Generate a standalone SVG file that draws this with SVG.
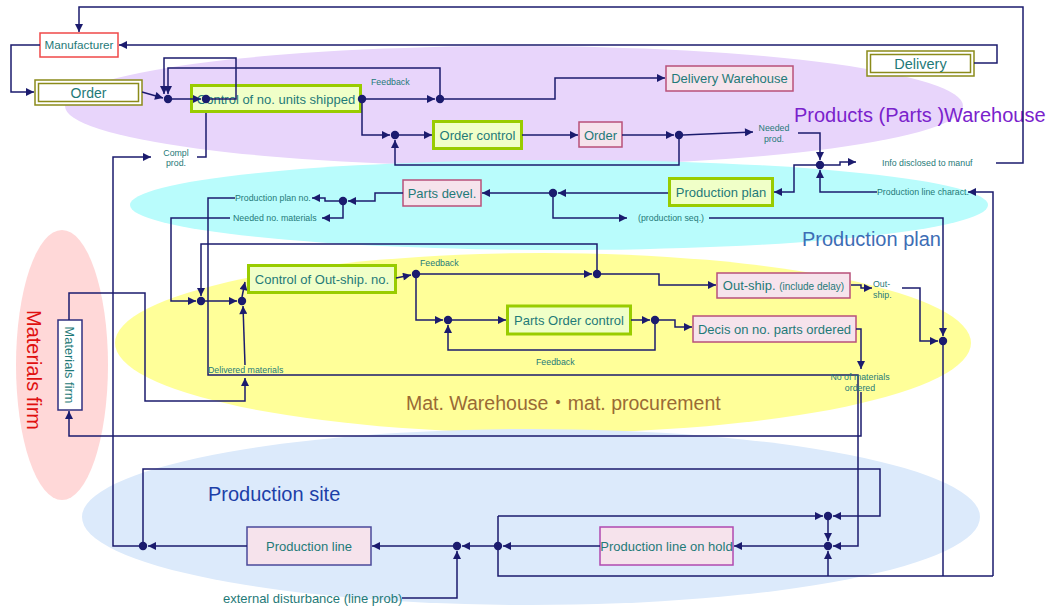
<svg xmlns="http://www.w3.org/2000/svg" width="1051" height="608" viewBox="0 0 1051 608">
<defs>
<marker id="ah" viewBox="0 0 10 10" refX="10" refY="5" markerWidth="9" markerHeight="8" markerUnits="userSpaceOnUse" orient="auto">
<path d="M0,0 L10,5 L0,10 z" fill="#1b1b6e"/>
</marker>
</defs>
<style>
text{font-family:"Liberation Sans",Arial,sans-serif}
.t{fill:#1f7a78;font-size:13px}
.s{fill:#1f7a78;font-size:8.8px}
.c{text-anchor:middle}
.ln{fill:none;stroke:#1b1b6e;stroke-width:1.5}
.ar{marker-end:url(#ah)}
.dot{fill:#1b1b6e}
.grn{fill:#f0ffc8;stroke:#99cc00;stroke-width:3}
.pnk{fill:#f6e3ec;stroke:#b8507a;stroke-width:1.5}
.dbl{fill:#fff;stroke:#8b8b1a;stroke-width:1.5}
.rg{font-size:20px}
</style>
<rect width="1051" height="608" fill="#fff"/>
<g id="regions">
<ellipse cx="62" cy="365" rx="46" ry="135" fill="#ffd8d8"/>
<ellipse cx="514" cy="106" rx="449" ry="60" fill="#e8d5fb"/>
<ellipse cx="559" cy="205" rx="429" ry="45" fill="#b9fcfc"/>
<ellipse cx="543" cy="343" rx="428" ry="90" fill="#ffff99"/>
<ellipse cx="531" cy="517" rx="449" ry="88" fill="#dceafb"/>
<text class="rg" x="794" y="122" fill="#7a22cc">Products (Parts )Warehouse</text>
<text class="rg" x="802" y="246" fill="#3d6db5">Production plan</text>
<text x="406" y="410" fill="#9a6a35" style="font-family:'Liberation Sans','Noto Sans CJK JP',sans-serif;font-size:19.5px">Mat. Warehouse・mat. procurement</text>
<text class="rg" x="208" y="501" fill="#1c3fa8">Production site</text>
<text class="rg" transform="translate(27,310) rotate(90)" fill="#e01010">Materials firm</text>
</g>
<g id="manufacturer"><rect x="40" y="33" width="78" height="24" fill="#fff" stroke="#f04848" stroke-width="1.5"/><text class="t c" x="79" y="49" style="font-size:11.7px">Manufacturer</text></g>
<g id="order-top"><rect class="dbl" x="35" y="80" width="107" height="25"/><rect class="dbl" x="38.5" y="83.5" width="100" height="18"/><text class="t c" x="88.5" y="97.5" style="font-size:14px">Order</text></g>
<g id="control-units"><rect class="grn" x="191.5" y="85.5" width="169" height="26"/><text class="t c" x="276" y="103.5">Control of no. units shipped</text></g>
<g id="delivery-warehouse"><rect class="pnk" x="666" y="66" width="127" height="25"/><text class="t c" x="729.5" y="83">Delivery Warehouse</text></g>
<g id="delivery"><rect class="dbl" x="867" y="51" width="107" height="25"/><rect class="dbl" x="870.5" y="54.5" width="100" height="18"/><text class="t c" x="920.5" y="68.5" style="font-size:14.5px">Delivery</text></g>
<g id="order-control"><rect class="grn" x="433.5" y="121.5" width="88" height="27"/><text class="t c" x="477.5" y="139.5">Order control</text></g>
<g id="order-pink"><rect class="pnk" x="579" y="122" width="43" height="25"/><text class="t c" x="600.5" y="139.5">Order</text></g>
<g id="production-plan"><rect class="grn" x="669.5" y="178.5" width="103" height="27"/><text class="t c" x="721" y="196.5">Production plan</text></g>
<g id="parts-devel"><rect class="pnk" x="403" y="180" width="78" height="26"/><text class="t c" x="442" y="197.5">Parts devel.</text></g>
<g id="control-outship"><rect class="grn" x="248.5" y="265.5" width="147" height="27"/><text class="t c" x="322" y="283.5">Control of Out-ship. no.</text></g>
<g id="parts-order-control"><rect class="grn" x="507.5" y="306" width="123" height="28"/><text class="t c" x="569" y="324.5">Parts Order control</text></g>
<g id="out-ship"><rect class="pnk" x="717" y="273" width="133" height="25"/><text class="t c" x="783.5" y="290">Out-ship. <tspan style="font-size:10px">(include delay)</tspan></text></g>
<g id="decis"><rect class="pnk" x="693" y="316" width="163" height="26"/><text class="t c" x="774.5" y="333.5">Decis on no. parts ordered</text></g>
<g id="materials-firm-box"><rect x="58" y="320" width="24" height="90" fill="#fff" stroke="#303080" stroke-width="1.5"/><text class="t c" transform="translate(65,365) rotate(90)" style="font-size:12.8px">Materials firm</text></g>
<g id="production-line"><rect x="247" y="527" width="124" height="38" fill="#f6e3ec" stroke="#4a4a9a" stroke-width="1.5"/><text class="t c" x="309" y="550.5">Production line</text></g>
<g id="production-line-hold"><rect x="600" y="527" width="133" height="38" fill="#f6e3ec" stroke="#b04ab0" stroke-width="1.5"/><text class="t c" x="666.5" y="550.5">Production line on hold</text></g>
<g id="connectors">
<path class="ln ar" d="M996 163 H1023 V7 H79 V32"/>
<path class="ln ar" d="M974 63 H997 V45 H119"/>
<path class="ln ar" d="M40 45 H11 V92 H34"/>
<path class="ln ar" d="M142 92 L163 98"/>
<path class="ln ar" d="M172 99 H201"/>
<path class="ln ar" d="M206 99 H236 V58 H164 V94"/>
<path class="ln ar" d="M440 99 V68 H168 V94"/>
<path class="ln ar" d="M366 99 H435"/>
<path class="ln ar" d="M444 99 H555 V78 H665"/>
<path class="ln ar" d="M362 103 V135 H390"/>
<path class="ln ar" d="M399 135 H432"/>
<path class="ln ar" d="M522 135 H578"/>
<path class="ln ar" d="M622 135 H674"/>
<path class="ln ar" d="M679 135 V165 H395 V140"/>
<path class="ln ar" d="M683 135 L753 132"/>
<path class="ln ar" d="M798 133 H820 V160"/>
<path class="ln ar" d="M824 165 H840 V162 H856"/>
<path class="ln ar" d="M877 192 H820 V170"/>
<path class="ln ar" d="M816 165 H794 V192 H774"/>
<path class="ln ar" d="M993 576 V192 H968"/>
<path class="ln ar" d="M668 193 H558"/>
<path class="ln ar" d="M549 193 H482"/>
<path class="ln ar" d="M553 197 V218 H627"/>
<path class="ln ar" d="M403 193 H375 V201 H348"/>
<path class="ln ar" d="M339 201 H325 V198 H312"/>
<path class="ln ar" d="M343 205 V218 H322"/>
<path class="ln ar" d="M230 218 H171 V301 H196"/>
<path class="ln ar" d="M597 274 V244 H201 V296"/>
<path class="ln ar" d="M205 301 H237"/>
<path class="ln ar" d="M242 297 L245 282"/>
<path class="ln ar" d="M245 365 L243 306"/>
<path class="ln ar" d="M69 320 V293 H145 V401 H245 V378"/>
<path class="ln ar" d="M396 278 L411 275"/>
<path class="ln ar" d="M420 274 H592"/>
<path class="ln ar" d="M601 274 H659 V285 H716"/>
<path class="ln ar" d="M416 278 V320 H443"/>
<path class="ln ar" d="M452 320 H506"/>
<path class="ln ar" d="M631 320 H650"/>
<path class="ln ar" d="M655 324 V350 H448 V325"/>
<path class="ln ar" d="M659 320 H675 V327 H692"/>
<path class="ln ar" d="M851 285 H861 V288 H872"/>
<path class="ln ar" d="M902 288 H920 V341 H938"/>
<path class="ln ar" d="M709 218 H943 V336"/>
<path class="ln" d="M943 345 V576"/>
<path class="ln ar" d="M856 329 H861 V369"/>
<path class="ln ar" d="M861 392 V436 H69 V411"/>
<path class="ln ar" d="M235 198 H208 V375 H858 V546 H833"/>
<path class="ln ar" d="M828 576 V551"/>
<path class="ln ar" d="M828 520 V541"/>
<path class="ln ar" d="M824 546 H734"/>
<path class="ln ar" d="M600 546 H503"/>
<path class="ln" d="M498 516 V576 H993"/>
<path class="ln ar" d="M498 516 H823"/>
<path class="ln ar" d="M494 546 H462"/>
<path class="ln ar" d="M453 546 H372"/>
<path class="ln ar" d="M402 598 H457 V551"/>
<path class="ln ar" d="M247 546 H148"/>
<path class="ln ar" d="M143 546 V469 H880 V516 H833"/>
<path class="ln ar" d="M143 546 H113 V157 H151"/>
<path class="ln" d="M197 157 H206 V113"/>
<g class="dot">
<circle cx="168" cy="99" r="4.2"/><circle cx="206" cy="99" r="4.2"/><circle cx="362" cy="99" r="4.2"/><circle cx="440" cy="99" r="4.2"/>
<circle cx="395" cy="135" r="4.2"/><circle cx="679" cy="135" r="4.2"/><circle cx="820" cy="165" r="4.2"/><circle cx="553" cy="193" r="4.2"/>
<circle cx="343" cy="201" r="4.2"/><circle cx="201" cy="301" r="4.2"/><circle cx="242" cy="301" r="4.2"/><circle cx="416" cy="274" r="4.2"/>
<circle cx="597" cy="274" r="4.2"/><circle cx="448" cy="320" r="4.2"/><circle cx="655" cy="320" r="4.2"/><circle cx="943" cy="341" r="4.2"/>
<circle cx="828" cy="516" r="4.2"/><circle cx="828" cy="546" r="4.2"/><circle cx="498" cy="546" r="4.2"/><circle cx="457" cy="546" r="4.2"/>
<circle cx="143" cy="546" r="4.2"/>
</g>
</g>
<g id="labels">
<text class="s" x="371" y="85">Feedback</text>
<text class="s c" x="176" y="156">Compl</text><text class="s c" x="176" y="166">prod.</text>
<text class="s c" x="774" y="131">Needed</text><text class="s c" x="774" y="142">prod.</text>
<text class="s" x="882" y="166">Info disclosed to manuf</text>
<text class="s" x="877" y="195">Production line charact.</text>
<text class="s" x="235" y="201">Production plan no.</text>
<text class="s" x="233" y="221">Needed no. materials</text>
<text class="s" x="638" y="221">(production seq.)</text>
<text class="s" x="420" y="266">Feedback</text>
<text class="s" x="536" y="365">Feedback</text>
<text class="s" x="873" y="287">Out-</text><text class="s" x="873" y="298">ship.</text>
<text class="s" x="208" y="373">Delivered materials</text>
<text class="s c" x="860" y="380">No of materials</text><text class="s c" x="860" y="391">ordered</text>
<text class="t" x="223" y="603">external disturbance (line prob)</text>
</g>
</svg>
